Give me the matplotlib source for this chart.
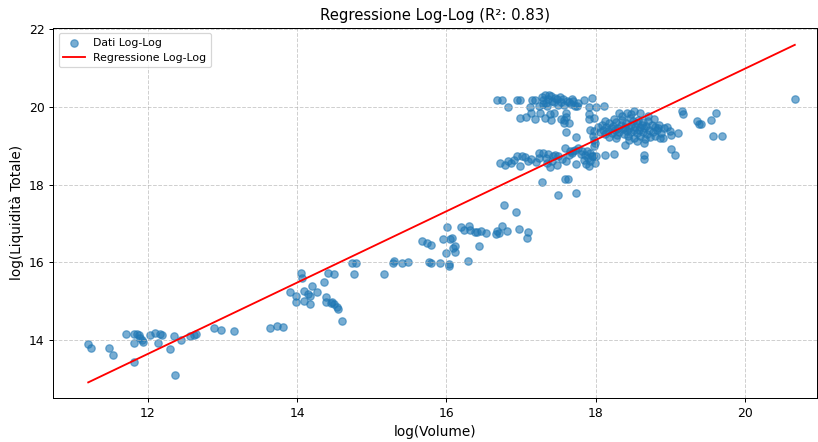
import numpy as np
import matplotlib
matplotlib.use("Agg")
import matplotlib.pyplot as plt

# log(Volume) / log(Liquidità Totale), grouped by region of the cloud
vol_low = [11.20, 11.24, 11.48, 11.53, 11.71, 11.82, 11.85, 11.88, 11.90, 11.92,
           11.94, 11.82, 11.81, 12.03, 12.09, 12.13, 12.16, 12.19, 12.29, 12.35,
           12.36, 12.44, 12.57, 12.62, 12.64, 12.88, 12.98, 13.15, 13.64, 13.73, 13.81]
liq_low = [13.91, 13.79, 13.81, 13.61, 14.17, 14.15, 14.17, 14.12, 14.05, 14.00,
           13.96, 13.93, 13.44, 14.13, 14.19, 13.93, 14.15, 14.13, 13.76, 14.10,
           13.10, 14.00, 14.10, 14.13, 14.15, 14.30, 14.26, 14.24, 14.32, 14.37, 14.33]

vol_mid = [13.91, 13.99, 13.99, 14.05, 14.06, 14.09, 14.09, 14.14, 14.17, 14.17,
           14.20, 14.26, 14.36, 14.39, 14.39, 14.42, 14.45, 14.47, 14.50, 14.50,
           14.54, 14.55, 14.60, 14.73, 14.76, 14.79]
liq_mid = [15.23, 15.14, 14.99, 15.72, 15.61, 15.26, 15.00, 15.18, 15.14, 14.93,
           15.40, 15.23, 15.49, 15.12, 14.97, 15.72, 14.95, 14.98, 14.93, 15.70,
           14.86, 14.80, 14.49, 15.98, 15.70, 15.98]

vol_16 = [15.16, 15.28, 15.30, 15.40, 15.49, 15.67, 15.74, 15.80, 15.77, 15.80,
          15.91, 15.96, 15.99, 16.01, 16.03, 16.03, 16.05, 16.07, 16.09, 16.11,
          16.12, 16.20, 16.23, 16.29, 16.30, 16.32, 16.39, 16.41, 16.44, 16.47,
          16.53, 16.66, 16.68, 16.70, 16.75, 16.81, 16.93, 16.98, 17.08, 17.10, 16.77]
liq_16 = [15.70, 15.98, 16.04, 15.98, 16.02, 16.55, 16.49, 16.45, 16.01, 15.99,
          15.98, 16.60, 16.25, 16.92, 15.92, 15.97, 16.60, 16.62, 16.38, 16.42,
          16.28, 16.92, 16.84, 16.04, 16.95, 16.84, 16.79, 16.78, 16.43, 16.82,
          16.77, 16.74, 16.80, 16.76, 16.94, 16.81, 17.30, 16.86, 16.62, 16.78, 17.48]

vol_band = [16.72, 16.79, 16.83, 16.86, 16.90, 16.94, 16.99, 17.01, 17.05, 17.10,
            17.14, 17.24, 17.24, 17.30, 17.36, 17.35, 17.39, 17.41, 17.46, 17.50,
            17.48, 17.59, 17.64, 17.66, 17.60, 17.74, 17.73, 17.77, 17.82, 17.86,
            17.89, 17.84, 17.90, 17.93, 17.95, 17.87, 17.91, 17.97, 17.99, 17.99,
            18.12, 18.25, 18.00, 17.98, 17.28, 17.59, 17.63, 17.49, 17.74,
            18.65, 18.65, 18.40, 18.65, 19.01, 19.06,
            17.33, 17.43, 17.55, 17.68, 17.80, 17.92, 17.20, 17.70]
liq_band = [18.56, 18.52, 18.60, 18.56, 18.65, 18.73, 18.49, 18.75, 18.71, 18.60,
            18.66, 18.69, 18.82, 18.83, 18.80, 18.56, 18.47, 18.60, 18.77, 18.73,
            18.52, 18.95, 18.77, 18.86, 18.60, 18.54, 18.90, 18.95, 18.86, 18.77,
            18.86, 18.65, 18.69, 18.82, 18.73, 18.54, 18.49, 18.73, 19.08, 18.56,
            18.77, 18.79, 18.73, 18.99, 18.06, 18.15, 18.15, 17.74, 17.80,
            18.77, 18.66, 19.03, 19.08, 18.93, 18.76,
            18.68, 18.74, 18.66, 18.82, 18.80, 18.62, 18.58, 18.88]

vol_top = [16.68, 16.74, 16.94, 16.99, 17.15, 17.19, 17.28, 17.32, 17.36, 17.40,
           17.44, 17.48, 17.53, 17.58, 17.62, 17.67, 17.72, 17.77, 17.84, 17.95, 18.11,
           16.83, 17.12, 17.24, 17.91, 18.00,
           17.14, 17.26, 17.39, 17.44, 17.61, 17.91,
           16.99, 17.07, 17.19, 17.32, 17.40, 17.54, 17.58, 17.61, 17.91,
           17.57, 17.64, 17.60, 17.74,
           17.30, 17.34, 17.38, 17.42, 17.46, 17.50, 17.56, 17.65, 17.70, 17.75,
           17.35, 17.29, 17.52, 17.68]
liq_top = [20.17, 20.17, 20.17, 20.17, 20.17, 20.17, 20.25, 20.30, 20.22, 20.28,
           20.12, 20.20, 20.12, 20.05, 20.15, 20.08, 20.02, 20.10, 20.18, 20.23, 20.03,
           20.01, 20.00, 20.02, 20.00, 19.99,
           19.86, 19.84, 19.82, 19.86, 19.84, 19.82,
           19.72, 19.74, 19.70, 19.72, 19.66, 19.70, 19.68, 19.75, 19.70,
           19.60, 19.58, 19.36, 19.23,
           20.18, 20.10, 20.30, 20.15, 20.24, 20.06, 20.20, 20.12, 20.16, 20.04,
           20.02, 20.08, 20.26, 20.22]

vol_core = [17.98, 17.93, 17.98, 17.96, 17.98, 18.31, 18.42, 18.47, 18.51, 18.60,
            18.83, 18.87, 18.91, 18.96, 19.00, 19.01, 19.10, 19.16, 19.17, 19.36,
            19.39, 19.41, 19.55, 19.62, 19.58, 19.69, 20.67,
            18.03, 18.06, 18.08, 18.10, 18.12, 18.14, 18.16, 18.18, 18.20, 18.22,
            18.24, 18.26, 18.27, 18.29, 18.30, 18.32, 18.34, 18.35, 18.37, 18.38,
            18.40, 18.41, 18.42, 18.44, 18.45, 18.46, 18.47, 18.48, 18.50, 18.51,
            18.52, 18.53, 18.55, 18.56, 18.57, 18.58, 18.59, 18.60, 18.62, 18.63,
            18.64, 18.65, 18.66, 18.68, 18.69, 18.70, 18.72, 18.73, 18.75, 18.77,
            18.79, 18.80, 18.82, 18.85, 18.88, 18.92, 18.45, 18.55, 18.28, 18.18,
            18.36, 18.25, 18.12, 18.70, 18.78]
liq_core = [19.72, 19.42, 19.38, 19.25, 19.16, 19.85, 19.85, 19.81, 19.89, 19.85,
            19.46, 19.20, 19.20, 19.50, 19.38, 19.29, 19.33, 19.89, 19.82, 19.63,
            19.57, 19.57, 19.68, 19.85, 19.25, 19.25, 20.22,
            19.48, 19.35, 19.55, 19.42, 19.30, 19.50, 19.38, 19.58, 19.45, 19.33,
            19.52, 19.40, 19.62, 19.28, 19.47, 19.36, 19.55, 19.68, 19.43, 19.30,
            19.50, 19.60, 19.38, 19.25, 19.46, 19.72, 19.55, 19.35, 19.63, 19.42,
            19.20, 19.50, 19.32, 19.58, 19.68, 19.40, 19.48, 19.25, 19.55, 19.62,
            19.36, 19.45, 19.18, 19.52, 19.30, 19.65, 19.42, 19.22, 19.55, 19.35,
            19.48, 19.25, 19.40, 19.55, 19.33, 19.45, 19.15, 19.12, 19.20, 19.22,
            19.78, 19.70, 19.65, 19.78, 19.70]

log_vol = np.array(vol_low + vol_mid + vol_16 + vol_band + vol_top + vol_core)
log_liq = np.array(liq_low + liq_mid + liq_16 + liq_band + liq_top + liq_core)

# least squares fit in log-log space
slope, intercept = np.polyfit(log_vol, log_liq, 1)
pred = slope * log_vol + intercept
r2 = 1 - np.sum((log_liq - pred) ** 2) / np.sum((log_liq - log_liq.mean()) ** 2)

x_line = np.array([log_vol.min(), log_vol.max()])

fig, ax = plt.subplots(figsize=(818 / 89, 442 / 89), dpi=89)
fig.subplots_adjust(left=0.065, right=0.999, top=0.937, bottom=0.0995)

ax.scatter(log_vol, log_liq, alpha=0.6, label="Dati Log-Log")
ax.plot(x_line, slope * x_line + intercept, color="red", label="Regressione Log-Log")
ax.set_title(f"Regressione Log-Log (R²: {r2:.2f})", fontsize=12)
ax.set_xlabel("log(Volume)", fontsize=11)
ax.set_ylabel("log(Liquidità Totale)", fontsize=11)
ax.set_xlim(10.73, 20.97)
ax.set_ylim(12.51, 22.04)
ax.legend(loc="upper left", fontsize=8.8)
ax.grid(True, linestyle="--", alpha=0.6)

fig.savefig("out.png", dpi=89)
